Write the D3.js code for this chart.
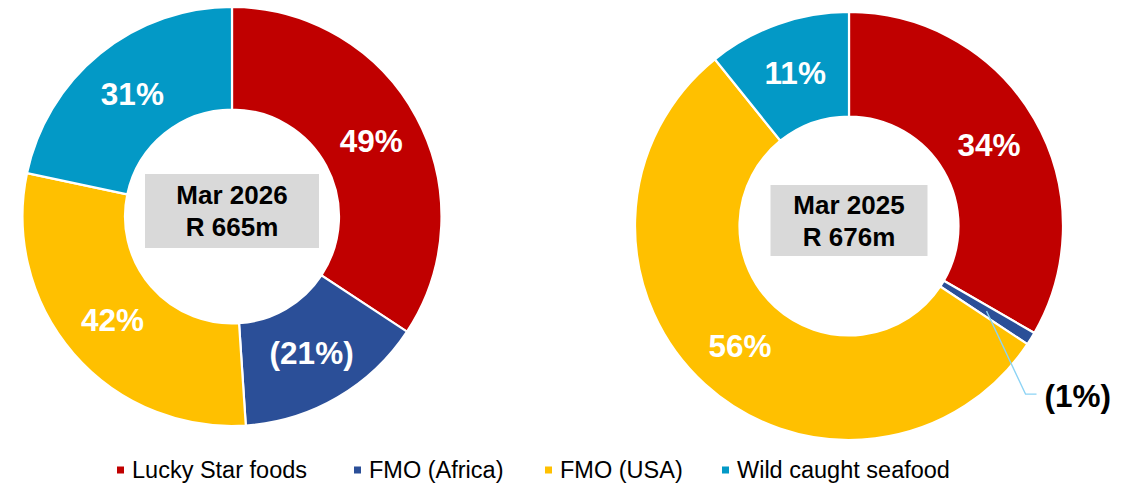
<!DOCTYPE html>
<html>
<head>
<meta charset="utf-8">
<script src="https://cdn.jsdelivr.net/npm/d3@7"></script>
<style>
  html, body { margin: 0; padding: 0; background: #ffffff; }
  svg { display: block; }
  text { font-family: "Liberation Sans", Arial, Helvetica, sans-serif; }
</style>
</head>
<body>
<svg id="chart" width="1135" height="484"></svg>
<script>
// Segment names and colours
const segments = ["Lucky Star foods", "FMO (Africa)", "FMO (USA)", "Wild caught seafood"];
const segmentColors = ["#C00000", "#2B4F98", "#FFC000", "#0399C6"];

// Share of operating profit per segment (negative = loss)
const values2026 = [49, -21, 42, 31];
const values2025 = [34, -1, 56, 11];

// Centre captions
const periods = ["Mar 2026", "Mar 2025"];
const totals = ["R 665m", "R 676m"];

const svg = d3.select("#chart");

const donuts = [
  { values: values2026, period: periods[0], total: totals[0],
    cx: 232, cy: 216.5, outer: 209.5, inner: 107, boxW: 174, boxH: 74 },
  { values: values2025, period: periods[1], total: totals[1],
    cx: 849, cy: 226, outer: 214, inner: 109.5, boxW: 157, boxH: 71 }
];

const color = d3.scaleOrdinal().domain(segments).range(segmentColors);
const pie = d3.pie().sort(null).value(d => Math.abs(d.value));
const fmt = v => v < 0 ? `(${Math.abs(v)}%)` : `${v}%`;

donuts.forEach(cfg => {
  const data = segments.map((name, i) => ({ name, value: cfg.values[i] }));
  const arcs = pie(data);
  const arc = d3.arc().innerRadius(cfg.inner).outerRadius(cfg.outer);

  const g = svg.append("g").attr("transform", `translate(${cfg.cx},${cfg.cy})`);

  g.selectAll("path.slice")
    .data(arcs)
    .join("path")
    .attr("class", "slice")
    .attr("d", arc)
    .attr("fill", d => color(d.data.name))
    .attr("stroke", "#ffffff")
    .attr("stroke-width", 2.2)
    .attr("stroke-linejoin", "miter");

  // Labels inside the ring, or outside with a leader line for thin slices
  arcs.forEach(d => {
    const [x, y] = arc.centroid(d);
    const span = d.endAngle - d.startAngle;
    if (span > 0.15) {
      g.append("text")
        .attr("x", x).attr("y", y)
        .attr("text-anchor", "middle")
        .attr("dominant-baseline", "central")
        .attr("font-size", 31.5)
        .attr("font-weight", "bold")
        .attr("fill", "#ffffff")
        .text(fmt(d.data.value));
    } else {
      const ex = x + 39, ey = y + 83;
      g.append("polyline")
        .attr("points", `${x},${y} ${ex},${ey} ${ex + 11},${ey}`)
        .attr("fill", "none")
        .attr("stroke", "#8CD3F5")
        .attr("stroke-width", 1.3);
      g.append("text")
        .attr("x", ex + 19).attr("y", ey + 2)
        .attr("text-anchor", "start")
        .attr("dominant-baseline", "central")
        .attr("font-size", 31.5)
        .attr("font-weight", "bold")
        .attr("fill", "#000000")
        .text(fmt(d.data.value));
    }
  });

  // Centre caption box
  const by = -5.5;
  g.append("rect")
    .attr("x", -cfg.boxW / 2).attr("y", by - cfg.boxH / 2)
    .attr("width", cfg.boxW).attr("height", cfg.boxH)
    .attr("fill", "#D9D9D9");
  [cfg.period, cfg.total].forEach((t, i) => {
    g.append("text")
      .attr("x", 0).attr("y", by + (i === 0 ? -16 : 16))
      .attr("text-anchor", "middle")
      .attr("dominant-baseline", "central")
      .attr("font-size", 26)
      .attr("font-weight", "bold")
      .attr("fill", "#000000")
      .text(t);
  });
});

// Legend
const legendX = [117, 354, 545, 722];
const legend = svg.append("g");
segments.forEach((name, i) => {
  const lg = legend.append("g").attr("transform", `translate(${legendX[i]},470)`);
  lg.append("rect")
    .attr("x", 0).attr("y", -3.5)
    .attr("width", 7).attr("height", 7)
    .attr("fill", color(name));
  lg.append("text")
    .attr("x", 15).attr("y", 0)
    .attr("dominant-baseline", "central")
    .attr("font-size", 23.5)
    .attr("fill", "#000000")
    .text(name);
});
</script>
</body>
</html>
